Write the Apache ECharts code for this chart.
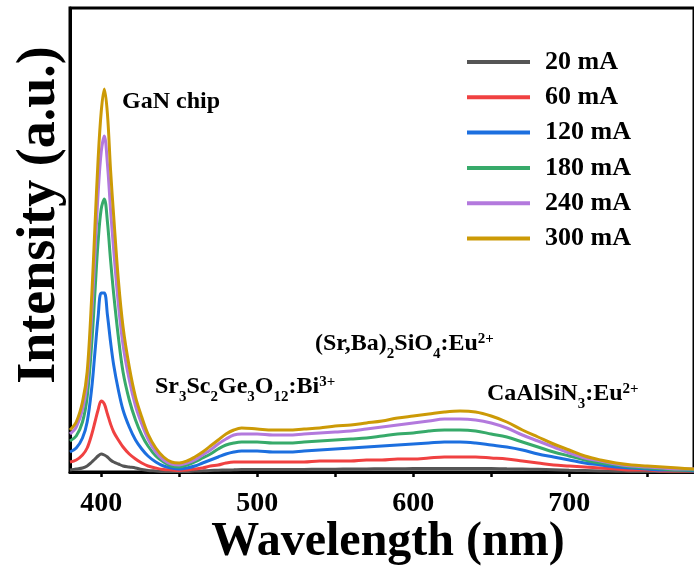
<!DOCTYPE html>
<html>
<head>
<meta charset="utf-8">
<script src="https://cdn.jsdelivr.net/npm/echarts@6/dist/echarts.min.js"></script>
<style>html,body{margin:0;padding:0;background:#fff}#c{width:694px;height:574px}</style>
</head>
<body>
<div id="c"></div>
<script>
// Wavelength (nm)
const wavelengths = [380,384,388,391,394,396,398,400,402,404,406,408,411,414,418,422,426,430,435,440,445,450,455,460,465,470,475,480,485,490,500,510,520,530,540,550,560,570,580,590,600,610,620,630,640,650,660,670,680,690,700,710,720,730,740,750,760,770,780];
const seriesNames = ["20 mA","60 mA","120 mA","180 mA","240 mA","300 mA"];
const i20  = [2,3,4,6,10,13,16,18,17,15,12,10,8,6,5,4,2.5,1.5,1,0.5,0.5,0.5,0.5,1,1.2,1.5,1.8,2,2.2,2.5,2.5,2.5,2.5,2.6,2.7,2.8,3,3.1,3.2,3.3,3.4,3.5,3.5,3.5,3.5,3.4,3.2,3,2.7,2.3,1.8,1.4,1,0.8,0.6,0.5,0.4,0.3,0.3];
const i60  = [10,12,17,24,38,50,62,71,68,58,48,40,32,25,18,13,9,6,4,2.5,2,1.5,2,3,4,6,7,9,10,10,10,10,10,10,11,11,11,12,12,13,13,14,15,15,15,14,13,11,9,7,6,5,4,3,2,2,1,1,1];
const i120 = [20,24,34,50,85,120,155,179,179,157,130,107,82,62,45,32,23,16,10,6,4,3,4,6,9,12,15,18,20,21,21,20,20,21,22,23,24,25,26,27,28,29,30,30,29,27,25,22,18,15,12,9,7,5,4,3,2,2,1];
const i180 = [31,36,50,75,130,180,230,263,273,250,212,178,135,100,72,52,37,26,16,10,6,5,7,10,14,18,23,27,29,30,30,29,29,30,31,32,33,34,36,38,39,41,42,42,41,38,35,30,25,20,16,12,9,7,5,4,3,2,2];
const i240 = [38,45,62,90,160,218,278,320,336,308,262,222,168,127,92,66,48,33,20,12,8,7,9,12,17,22,28,33,37,38,38,37,37,38,39,40,41,43,45,47,49,51,53,53,52,49,44,37,31,25,19,14,11,8,6,5,4,3,3];
const i300 = [42,50,70,100,178,246,312,360,383,358,302,256,192,145,105,75,55,38,24,15,10,9,11,15,20,26,32,38,42,44,43,42,42,43,44,46,47,49,51,54,56,58,60,61,60,56,50,42,35,28,22,16,12,9,7,6,5,4,3];
const seriesValues = [i20,i60,i120,i180,i240,i300];
const colors = ["#555555","#f04141","#1c6fdf","#37aa6a","#b379dd","#cc9a06"];
const xTickLabels = [400,500,600,700];
const xTickMarks = [400,450,500,550,600,650,700,750];
const xTitle = "Wavelength (nm)";
const yTitle = "Intensity (a.u.)";

const FONT = "'Liberation Serif','Times New Roman',serif";
const chart = echarts.init(document.getElementById('c'), null, {renderer:'canvas'});

function chem(parts, x, y) {
  return {
    type: 'text', x: x, y: y, z: 100,
    style: {
      text: parts.map(p => '{' + p[0] + '|' + p[1] + '}').join(''),
      verticalAlign: 'top', align: 'left',
      rich: {
        m: {fontSize: 24, lineHeight: 36, fontWeight: 'bold', fontFamily: FONT, fill: '#000'},
        b: {fontSize: 15, lineHeight: 15, fontWeight: 'bold', fontFamily: FONT, fill: '#000', verticalAlign: 'bottom'},
        p: {fontSize: 15, lineHeight: 15, fontWeight: 'bold', fontFamily: FONT, fill: '#000', verticalAlign: 'top', padding: [6,0,0,0]}
      }
    }
  };
}

const option = {
  animation: false,
  backgroundColor: '#fff',
  grid: {left: 70, right: -6, top: 8, bottom: 102, show: true, borderColor: '#000', borderWidth: 3, containLabel: false},
  legend: {
    data: seriesNames, orient: 'vertical', left: 467, top: 47, padding: 0,
    itemWidth: 63, itemHeight: 4, itemGap: 5.3, icon: 'rect',
    textStyle: {fontFamily: FONT, fontWeight: 'bold', fontSize: 26, lineHeight: 30, color: '#000', padding: [0,0,0,10]}
  },
  xAxis: {
    type: 'value', min: 380, max: 780, position: 'bottom',
    axisLine: {show: true, lineStyle: {color: '#000', width: 3}},
    axisTick: {show: true, inside: false, length: 5, lineStyle: {color: '#000', width: 2.5}, customValues: xTickMarks},
    axisLabel: {show: true, margin: 18, fontFamily: FONT, fontWeight: 'bold', fontSize: 28, color: '#000', customValues: xTickLabels},
    splitLine: {show: false}
  },
  yAxis: {
    type: 'value', min: 0, max: 464,
    axisLine: {show: true, lineStyle: {color: '#000', width: 3}},
    axisTick: {show: false}, axisLabel: {show: false}, splitLine: {show: false}
  },
  series: seriesNames.map((n, k) => ({
    name: n, type: 'line',
    data: wavelengths.map((w, i) => [w, seriesValues[k][i]]),
    showSymbol: false, symbol: 'none', smooth: 0.35,
    lineStyle: {color: colors[k], width: 3}, itemStyle: {color: colors[k]}, z: 2 + k
  })),
  graphic: [
    {type: 'text', x: 388, y: 543, z: 100, style: {text: xTitle, align: 'center', verticalAlign: 'middle', font: "bold 48px " + FONT, fill: '#000'}},
    {type: 'text', x: 40, y: 215, rotation: Math.PI / 2, z: 100, style: {text: yTitle, align: 'center', verticalAlign: 'middle', font: "bold 54px " + FONT, fill: '#000'}},
    chem([['m','GaN chip']], 122, 84),
    chem([['m','Sr'],['b','3'],['m','Sc'],['b','2'],['m','Ge'],['b','3'],['m','O'],['b','12'],['m',':Bi'],['p','3+']], 155, 369),
    chem([['m','(Sr,Ba)'],['b','2'],['m','SiO'],['b','4'],['m',':Eu'],['p','2+']], 315, 326),
    chem([['m','CaAlSiN'],['b','3'],['m',':Eu'],['p','2+']], 487, 376)
  ]
};
chart.setOption(option);
</script>
</body>
</html>
